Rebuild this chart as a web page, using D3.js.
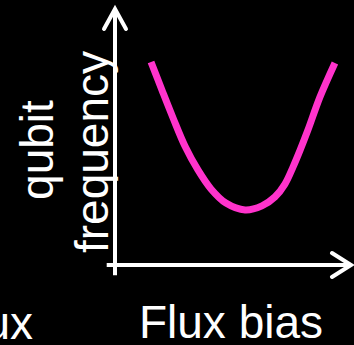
<!DOCTYPE html>
<html>
<head>
<meta charset="utf-8">
<script src="https://cdn.jsdelivr.net/npm/d3@7"></script>
<style>
  html, body { margin: 0; padding: 0; background: #000; overflow: hidden; }
  text { font-family: "Liberation Sans", Arial, sans-serif; fill: #fff; }
</style>
</head>
<body>
<div id="chart"></div>
<script>
// sketch of a tunable qubit: frequency vs flux bias (arbitrary units)
const fluxBias = [1.52, 1.98, 2.45, 2.95, 3.50, 4.05, 4.68, 5.49, 6.20, 6.75, 7.17, 7.51, 7.81, 8.14, 8.65, 9.28]
const qubitFreq = [7.90, 6.81, 5.72, 4.63, 3.70, 2.96, 2.41, 2.14, 2.30, 2.65, 3.15, 3.81, 4.47, 5.25, 6.54, 7.86]
const xLabel = "Flux bias"
const yLabel = ["qubit", "frequency"]
const clippedLabel = "Flux"

const width = 354, height = 345

const svg = d3.select("#chart")
    .append("svg")
    .attr("width", width)
    .attr("height", height)

svg.append("rect").attr("width", width).attr("height", height).attr("fill", "#000")

const xScale = d3.scaleLinear().domain([0, 10]).range([115, 352])
const yScale = d3.scaleLinear().domain([0, 10]).range([265, 8])

const axisColor = "#fff"
const axisWidth = 4

// y axis with open arrow head
svg.append("line")
    .attr("x1", xScale(0)).attr("x2", xScale(0))
    .attr("y1", yScale(-0.4)).attr("y2", yScale(10) + 1)
    .attr("stroke", axisColor).attr("stroke-width", axisWidth)
svg.append("path")
    .attr("d", `M${xScale(0) - 11},${yScale(10) + 21} L${xScale(0)},${yScale(10) + 1} L${xScale(0) + 11},${yScale(10) + 21}`)
    .attr("fill", "none").attr("stroke", axisColor).attr("stroke-width", axisWidth)
    .attr("stroke-linecap", "round").attr("stroke-linejoin", "miter")

// x axis with open arrow head
svg.append("line")
    .attr("x1", xScale(-0.35)).attr("x2", xScale(10) - 1)
    .attr("y1", yScale(0)).attr("y2", yScale(0))
    .attr("stroke", axisColor).attr("stroke-width", axisWidth)
svg.append("path")
    .attr("d", `M${xScale(10) - 20},${yScale(0) - 12} L${xScale(10) - 1},${yScale(0)} L${xScale(10) - 20},${yScale(0) + 12}`)
    .attr("fill", "none").attr("stroke", axisColor).attr("stroke-width", axisWidth)
    .attr("stroke-linecap", "round").attr("stroke-linejoin", "miter")

// the curve
const line = d3.line()
    .x((d, i) => xScale(fluxBias[i]))
    .y(d => yScale(d))
    .curve(d3.curveCatmullRom)

svg.append("path")
    .datum(qubitFreq)
    .attr("d", line)
    .attr("fill", "none")
    .attr("stroke", "#ff33cc")
    .attr("stroke-width", 7)
    .attr("stroke-linecap", "butt")

// labels
svg.append("text")
    .attr("x", 231).attr("y", 338)
    .attr("text-anchor", "middle")
    .style("font-size", "46px")
    .text(xLabel)

svg.append("text")
    .attr("transform", "translate(53,150) rotate(-90)")
    .attr("text-anchor", "middle")
    .style("font-size", "46px")
    .text(yLabel[0])

svg.append("text")
    .attr("transform", "translate(108,152) rotate(-90)")
    .attr("text-anchor", "middle")
    .style("font-size", "46px")
    .text(yLabel[1])

svg.append("text")
    .attr("x", 33).attr("y", 339)
    .attr("text-anchor", "end")
    .style("font-size", "46px")
    .text(clippedLabel)
</script>
</body>
</html>
